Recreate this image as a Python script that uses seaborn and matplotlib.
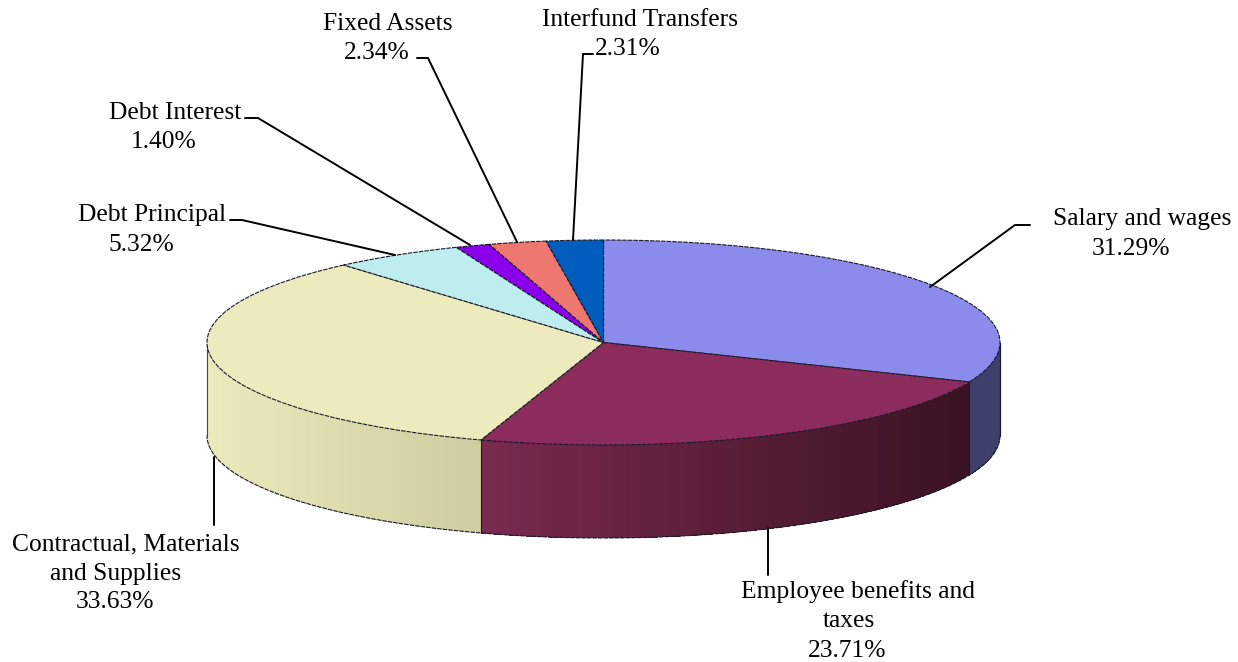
import numpy as np
import matplotlib
matplotlib.use("Agg")
import matplotlib.pyplot as plt
import seaborn as sns
from matplotlib.colors import to_rgb

# values, clockwise from 12 o'clock
categories = ["Salary and wages", "Employee benefits and\ntaxes", "Contractual, Materials\nand Supplies",
              "Debt Principal", "Debt Interest", "Fixed Assets", "Interfund Transfers"]
shares = [31.29, 23.71, 33.63, 5.32, 1.40, 2.34, 2.31]

top_colors = ["#8B8BEB", "#8B2C5D", "#EDEBBE", "#BDEDEE", "#8B00EB", "#EE7870", "#005DBD"]
# wall shading (at the start angle, at the end angle), only the front slices show
wall_colors = {0: ("#3F3F6B", "#3F3F6B"), 1: ("#3A1223", "#7A2A50"), 2: ("#CFCD9F", "#ECEABD")}

# label lines in picture pixels: centre x and baseline y of each line
label_xy = [[(1142, 225), (1131, 255)],
            [(858, 598), (849, 627), (847, 657)],
            [(125.5, 550), (116, 580), (115, 608)],
            [(152.5, 221), (141, 251)],
            [(175, 119), (164, 148)],
            [(388, 30), (377, 59)],
            [(640, 26), (628, 55)]]
leaders = [[(930, 287), (1015, 225), (1030, 225)],
           [(768, 528), (768, 575)],
           [(214, 457), (214, 525)],
           [(395, 255), (242, 220), (230, 220)],
           [(470, 245), (258, 118), (245, 118)],
           [(517, 242), (428, 58), (417, 58)],
           [(573, 240), (583, 54), (593, 54)]]

W, H = 1238, 662
CX, CY, RX, RY, DEPTH = 603.5, 342.5, 396.5, 102.5, 93


def px(x, y):
    # picture pixels to the unit pie coordinates
    return (x - CX) / RX, (CY - y) / RY


sns.set_theme(style="white")
plt.rcParams["font.family"] = ["Liberation Serif", "DejaVu Serif"]

fig = plt.figure(figsize=(W / 100, H / 100), dpi=100, facecolor="white")
ax = fig.add_axes([0, 0, 1, 1])

palette = sns.color_palette(top_colors)
ax.pie(shares, colors=palette, startangle=90, counterclock=False, radius=1,
       wedgeprops={"edgecolor": "#1a1a2a", "linewidth": 0.8, "linestyle": (0, (4, 1))})
ax.set_aspect("auto")

# side wall, narrow strips painted over each other so the shading runs across it
drop = DEPTH / RY
edges = np.concatenate([[0], np.cumsum(shares)]) / sum(shares) * 2 * np.pi
for i, (c0, c1) in wall_colors.items():
    a0, a1 = max(edges[i], 0.5 * np.pi), min(edges[i + 1], 1.5 * np.pi)
    steps = np.linspace(a0, a1, 41)
    c0, c1 = np.array(to_rgb(c0)), np.array(to_rgb(c1))
    x0, x1 = np.sin(a0), np.sin(a1)
    for k in range(40):
        t = np.linspace(steps[k], a1, 60)
        xs = np.sin(t)
        ys = np.cos(t)
        mid = np.sin((steps[k] + steps[k + 1]) / 2)
        col = c0 + (c1 - c0) * (mid - x0) / (x1 - x0)
        ax.fill(np.r_[xs, xs[::-1]], np.r_[ys, ys[::-1] - drop], color=col, lw=0, zorder=0.5)
    # divider at the start of the slice
    ax.plot([x0, x0], [np.cos(a0), np.cos(a0) - drop], color="#1a1a2a", lw=0.8, zorder=0.6)

# outline of the wall
t = np.linspace(0.5 * np.pi, 1.5 * np.pi, 200)
ax.plot(np.sin(t), np.cos(t) - drop, color="#1a1a2a", lw=0.8, ls=(0, (4, 1)), zorder=0.6)
ax.plot([-1, -1], [0, -drop], color="#444444", lw=0.8, zorder=0.6)
ax.plot([1, 1], [0, -drop], color="#1a1a2a", lw=0.8, zorder=0.6)

for line in leaders:
    pts = np.array([px(*p) for p in line])
    ax.plot(pts[:, 0], pts[:, 1], color="black", lw=1.4, solid_joinstyle="miter", zorder=3)

for name, share, anchors in zip(categories, shares, label_xy):
    rows = name.split("\n") + [f"{share:.2f}%"]
    for row, (x, y) in zip(rows, anchors):
        lx, ly = px(x, y)
        ax.text(lx, ly, row, ha="center", va="baseline", fontsize=18.4, color="black", zorder=4)

ax.set_xlim(px(0, 0)[0], px(W, 0)[0])
ax.set_ylim(px(0, H)[1], px(0, 0)[1])
ax.axis("off")

fig.savefig("out.png", dpi=100, facecolor="white")
